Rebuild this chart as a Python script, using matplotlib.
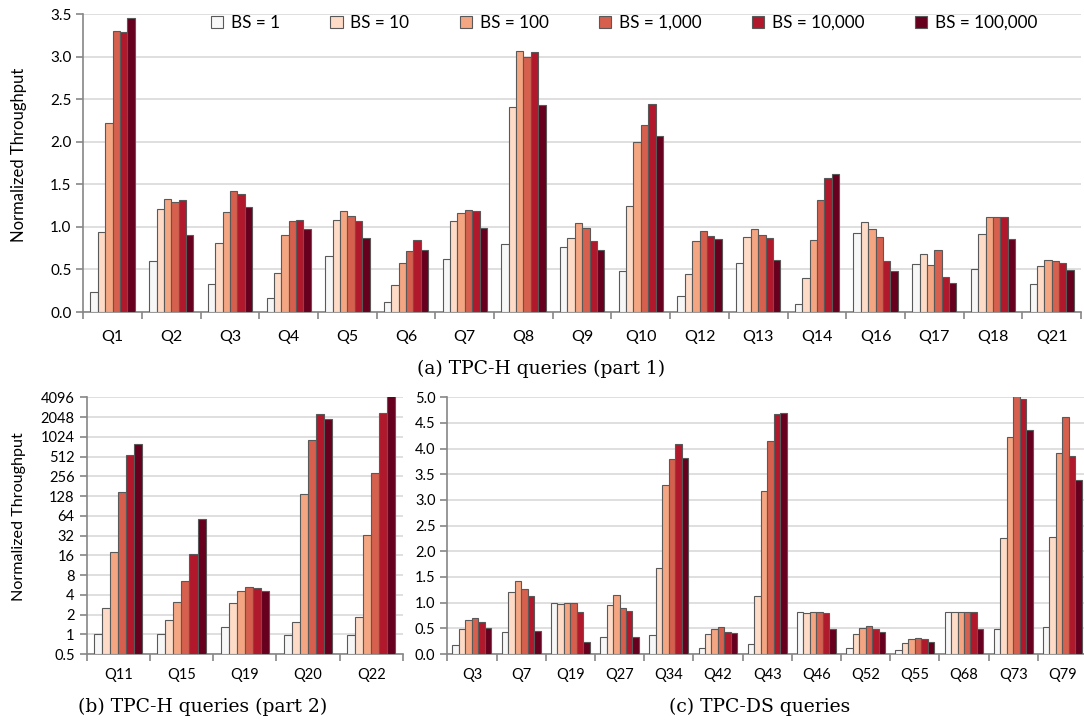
import numpy as np
import matplotlib
matplotlib.use("Agg")
import matplotlib.pyplot as plt
from matplotlib.ticker import FixedLocator, FuncFormatter

plt.rcParams['font.family'] = ['Lato', 'DejaVu Sans']

series_labels = ["BS = 1", "BS = 10", "BS = 100", "BS = 1,000", "BS = 10,000", "BS = 100,000"]
colors = ["#F7F7F7", "#FDDBC7", "#F4A582", "#D6604D", "#B2182B", "#67001F"]

# (a) TPC-H part 1
h1_queries = ["Q1", "Q2", "Q3", "Q4", "Q5", "Q6", "Q7", "Q8", "Q9", "Q10", "Q12", "Q13", "Q14", "Q16", "Q17", "Q18", "Q21"]
h1_bs1      = [0.24, 0.60, 0.33, 0.16, 0.66, 0.12, 0.62, 0.80, 0.76, 0.48, 0.19, 0.57, 0.09, 0.93, 0.56, 0.51, 0.33]
h1_bs10     = [0.94, 1.21, 0.81, 0.46, 1.08, 0.32, 1.07, 2.41, 0.87, 1.25, 0.45, 0.88, 0.40, 1.06, 0.68, 0.92, 0.54]
h1_bs100    = [2.22, 1.33, 1.18, 0.90, 1.19, 0.57, 1.16, 3.07, 1.05, 2.00, 0.83, 0.97, 0.85, 0.98, 0.55, 1.12, 0.61]
h1_bs1000   = [3.30, 1.29, 1.42, 1.07, 1.13, 0.72, 1.20, 3.00, 0.99, 2.20, 0.95, 0.90, 1.32, 0.88, 0.73, 1.12, 0.60]
h1_bs10000  = [3.29, 1.31, 1.39, 1.08, 1.07, 0.85, 1.19, 3.05, 0.83, 2.44, 0.89, 0.87, 1.57, 0.60, 0.41, 1.12, 0.57]
h1_bs100000 = [3.45, 0.91, 1.23, 0.97, 0.87, 0.73, 0.99, 2.43, 0.73, 2.07, 0.86, 0.61, 1.62, 0.48, 0.34, 0.86, 0.49]

# (b) TPC-H part 2 (log2 scale)
h2_queries = ["Q11", "Q15", "Q19", "Q20", "Q22"]
h2_bs1      = [1.0, 1.0, 1.29, 0.97, 0.97]
h2_bs10     = [2.55, 1.65, 3.03, 1.54, 1.81]
h2_bs100    = [17.8, 3.1, 4.57, 136, 32.3]
h2_bs1000   = [146, 6.5, 5.26, 918, 292]
h2_bs10000  = [537, 17, 5.08, 2290, 2370]
h2_bs100000 = [788, 58, 4.63, 1925, 4600]
h2_yticks = [0.5, 1, 2, 4, 8, 16, 32, 64, 128, 256, 512, 1024, 2048, 4096]

# (c) TPC-DS
ds_queries = ["Q3", "Q7", "Q19", "Q27", "Q34", "Q42", "Q43", "Q46", "Q52", "Q55", "Q68", "Q73", "Q79"]
ds_bs1      = [0.175, 0.42, 0.99, 0.34, 0.37, 0.12, 0.19, 0.81, 0.12, 0.07, 0.81, 0.49, 0.52]
ds_bs10     = [0.49, 1.20, 0.97, 0.95, 1.68, 0.38, 1.12, 0.79, 0.38, 0.22, 0.81, 2.25, 2.27]
ds_bs100    = [0.66, 1.43, 0.99, 1.14, 3.29, 0.49, 3.18, 0.81, 0.50, 0.30, 0.81, 4.23, 3.92]
ds_bs1000   = [0.71, 1.26, 0.99, 0.90, 3.79, 0.53, 4.14, 0.81, 0.545, 0.31, 0.81, 5.02, 4.61]
ds_bs10000  = [0.63, 1.12, 0.82, 0.84, 4.09, 0.435, 4.67, 0.79, 0.49, 0.29, 0.81, 4.96, 3.86]
ds_bs100000 = [0.51, 0.455, 0.23, 0.34, 3.81, 0.40, 4.70, 0.49, 0.42, 0.24, 0.49, 4.36, 3.38]

W, H = 1084, 723
fig = plt.figure(figsize=(W / 100, H / 100), dpi=100)

GRID = "#D9D9D9"
SPINE = "#868686"
EDGE = "#595959"
SERIF = ["DejaVu Serif", "Liberation Serif"]


def style_axes(ax, ncat, xfs, xpad, yfs):
    for s in ["top", "right"]:
        ax.spines[s].set_visible(False)
    for s in ["left", "bottom"]:
        ax.spines[s].set_color(SPINE)
        ax.spines[s].set_linewidth(1.2)
    ax.set_axisbelow(True)
    ax.yaxis.grid(True, color=GRID, linewidth=1.2)
    ax.set_xlim(-0.5, ncat - 0.5)
    ax.set_xticks(np.arange(ncat))
    ax.xaxis.set_minor_locator(FixedLocator(np.arange(ncat + 1) - 0.5))
    ax.tick_params(axis="x", which="major", length=0, pad=xpad, labelsize=xfs)
    ax.tick_params(axis="x", which="minor", length=5, width=1.2, color=SPINE, direction="out")
    ax.tick_params(axis="y", which="major", length=5, width=1.2, color=SPINE, direction="out", labelsize=yfs)
    ax.tick_params(axis="y", which="minor", length=0)


def draw_bars(ax, cats, data, frac, bottom=0.0):
    n = len(data)
    x = np.arange(len(cats))
    w = frac / n
    for i, vals in enumerate(data):
        vals = np.asarray(vals, dtype=float)
        ax.bar(x - frac / 2 + w * (i + 0.5), vals - bottom, width=w, bottom=bottom,
               color=colors[i], edgecolor=EDGE, linewidth=0.8, label=series_labels[i], zorder=3)
    ax.set_xticklabels(cats)


# ---------- (a) ----------
ax1 = fig.add_axes([83.3 / W, 1 - 312 / H, (1081 - 83.3) / W, (312 - 14) / H])
style_axes(ax1, len(h1_queries), 11.5, 13, 11)
draw_bars(ax1, h1_queries, [h1_bs1, h1_bs10, h1_bs100, h1_bs1000, h1_bs10000, h1_bs100000], 0.755)
ax1.set_ylim(0, 3.5)
ax1.set_yticks(np.arange(0, 3.51, 0.5))
ax1.yaxis.set_major_formatter(FuncFormatter(lambda v, p: f"{v:.1f}"))
ax1.set_ylabel("Normalized Throughput", fontsize=12)
ax1.yaxis.set_label_coords((27 - 83.3) / 998, (312 - 155) / 298)
ax1.legend(loc="upper left", bbox_to_anchor=((211 - 83.3) / 998, (312 - 15) / 298), ncol=6, frameon=False,
           fontsize=12.3, handlelength=0.72, handleheight=0.72, handletextpad=0.45,
           columnspacing=2.95, borderaxespad=0, borderpad=0)
fig.text(541 / W, 1 - 369 / H, "(a) TPC-H queries (part 1)", ha="center", va="center",
         family=SERIF, fontsize=13.5)

# ---------- (b) ----------
ax2 = fig.add_axes([86.5 / W, 1 - 654 / H, (403 - 86.5) / W, (654 - 397.3) / H])
ax2.set_yscale("log", base=2)
style_axes(ax2, len(h2_queries), 10.5, 10, 10.5)
draw_bars(ax2, h2_queries, [h2_bs1, h2_bs10, h2_bs100, h2_bs1000, h2_bs10000, h2_bs100000], 0.763, bottom=0.5)
ax2.set_ylim(0.5, 4096)
ax2.yaxis.set_major_locator(FixedLocator(h2_yticks))
ax2.yaxis.set_minor_locator(FixedLocator([]))
ax2.yaxis.set_major_formatter(FuncFormatter(lambda v, p: f"{v:g}"))
ax2.set_ylabel("Normalized Throughput", fontsize=11.6)
ax2.yaxis.set_label_coords((26 - 86.5) / 316.5, (654 - 517) / 256.7)
fig.text(203 / W, 1 - 707 / H, "(b) TPC-H queries (part 2)", ha="center", va="center",
         family=SERIF, fontsize=13.5)

# ---------- (c) ----------
ax3 = fig.add_axes([447.3 / W, 1 - 654 / H, (1087 - 447.3) / W, (654 - 397.3) / H])
style_axes(ax3, len(ds_queries), 10.5, 10, 10.5)
draw_bars(ax3, ds_queries, [ds_bs1, ds_bs10, ds_bs100, ds_bs1000, ds_bs10000, ds_bs100000], 0.79)
ax3.set_ylim(0, 5.0)
ax3.set_yticks(np.arange(0, 5.01, 0.5))
ax3.yaxis.set_major_formatter(FuncFormatter(lambda v, p: f"{v:.1f}"))
fig.text(760 / W, 1 - 707 / H, "(c) TPC-DS queries", ha="center", va="center",
         family=SERIF, fontsize=13.5)

fig.savefig("out.png", dpi=100, facecolor="white")
